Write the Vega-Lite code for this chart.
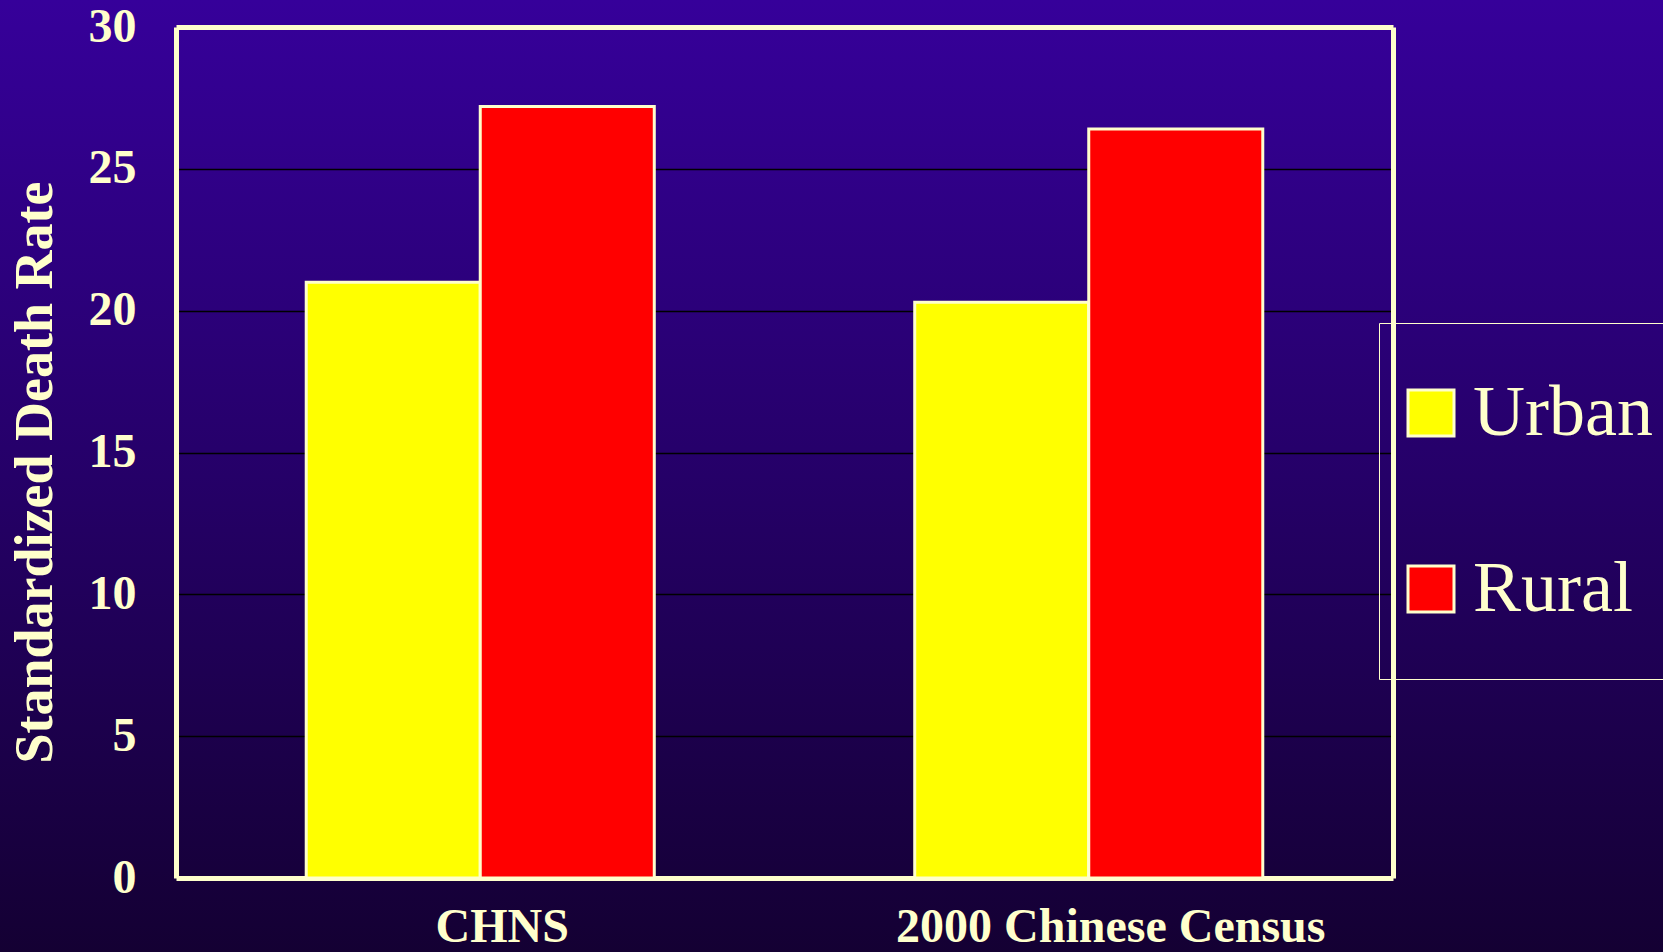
{
  "$schema": "https://vega.github.io/schema/vega-lite/v6.json",
  "width": 1663,
  "height": 952,
  "autosize": {"type": "none"},
  "padding": 0,
  "background": "#220058",
  "config": {
    "view": {
      "stroke": null,
      "fill": {
        "gradient": "linear",
        "x1": 0, "y1": 0, "x2": 0, "y2": 1,
        "stops": [
          {"offset": 0, "color": "#36009A"},
          {"offset": 0.5, "color": "#250068"},
          {"offset": 1, "color": "#140033"}
        ]
      }
    },
    "font": "Liberation Serif"
  },
  "data": {
    "values": [
      {"source": "CHNS", "area": "Urban", "rate": 21.0},
      {"source": "CHNS", "area": "Rural", "rate": 27.2},
      {"source": "2000 Chinese Census", "area": "Urban", "rate": 20.3},
      {"source": "2000 Chinese Census", "area": "Rural", "rate": 26.4}
    ]
  },
  "layer": [
    {
      "mark": {"type": "bar", "stroke": "#FFFFCC", "strokeWidth": 3},
      "encoding": {
        "x": {
          "field": "source",
          "type": "nominal",
          "sort": ["CHNS", "2000 Chinese Census"],
          "scale": {"range": [176, 1393], "paddingInner": 0.428, "paddingOuter": 0.214},
          "axis": {
            "orient": "bottom",
            "offset": -74,
            "title": null,
            "ticks": false,
            "grid": false,
            "labelAngle": 0,
            "labelPadding": 25,
            "labelOffset": 22,
            "labelFont": "Liberation Serif",
            "labelFontSize": 48,
            "labelFontWeight": "bold",
            "labelColor": "#FFFFCC",
            "labelLimit": 0,
            "domainColor": "#FFFFCC",
            "domainWidth": 5
          }
        },
        "xOffset": {"field": "area", "type": "nominal", "sort": ["Urban", "Rural"]},
        "y": {
          "field": "rate",
          "type": "quantitative",
          "scale": {"domain": [0, 30], "range": [878, 27], "nice": false, "zero": false},
          "axis": {
            "orient": "left",
            "offset": -176,
            "values": [0, 5, 10, 15, 20, 25, 30],
            "ticks": false,
            "labelPadding": 40,
            "labelFont": "Liberation Serif",
            "labelFontSize": 48,
            "labelFontWeight": "bold",
            "labelColor": "#FFFFCC",
            "domainColor": "#FFFFCC",
            "domainWidth": 5,
            "grid": true,
            "gridColor": "#000000",
            "gridWidth": 1.5,
            "title": "Standardized Death Rate",
            "titleX": -141,
            "titleY": 472,
            "titleAngle": -90,
            "titleAlign": "center",
            "titleBaseline": "middle",
            "titleFont": "Liberation Serif",
            "titleFontSize": 54,
            "titleFontWeight": "bold",
            "titleColor": "#FFFFCC"
          }
        },
        "color": {
          "field": "area",
          "type": "nominal",
          "sort": ["Urban", "Rural"],
          "scale": {"domain": ["Urban", "Rural"], "range": ["#FFFF00", "#FF0000"]},
          "legend": {
            "orient": "none",
            "legendX": 1379,
            "legendY": 323,
            "title": null,
            "direction": "vertical",
            "padding": 54,
            "strokeColor": "#FFFFCC",
            "symbolType": "square",
            "symbolSize": 2116,
            "symbolStrokeColor": "#FFFFCC",
            "symbolStrokeWidth": 3,
            "symbolOpacity": 1,
            "symbolOffset": -38,
            "labelFont": "Liberation Serif",
            "labelFontSize": 72,
            "labelColor": "#FFFFCC",
            "labelOffset": 6,
            "labelLimit": 0,
            "rowPadding": 104
          }
        }
      }
    },
    {
      "mark": {"type": "bar", "opacity": 0},
      "encoding": {
        "x": {
          "field": "source",
          "type": "nominal",
          "sort": ["CHNS", "2000 Chinese Census"],
          "axis": {
            "orient": "top",
            "offset": -27,
            "title": null,
            "labels": false,
            "ticks": false,
            "grid": false,
            "domainColor": "#FFFFCC",
            "domainWidth": 5
          }
        },
        "y": {
          "field": "rate",
          "type": "quantitative",
          "axis": {
            "orient": "right",
            "offset": -270,
            "title": null,
            "labels": false,
            "ticks": false,
            "grid": false,
            "domainColor": "#FFFFCC",
            "domainWidth": 5
          }
        }
      }
    }
  ],
  "resolve": {"axis": {"x": "independent", "y": "independent"}}
}
